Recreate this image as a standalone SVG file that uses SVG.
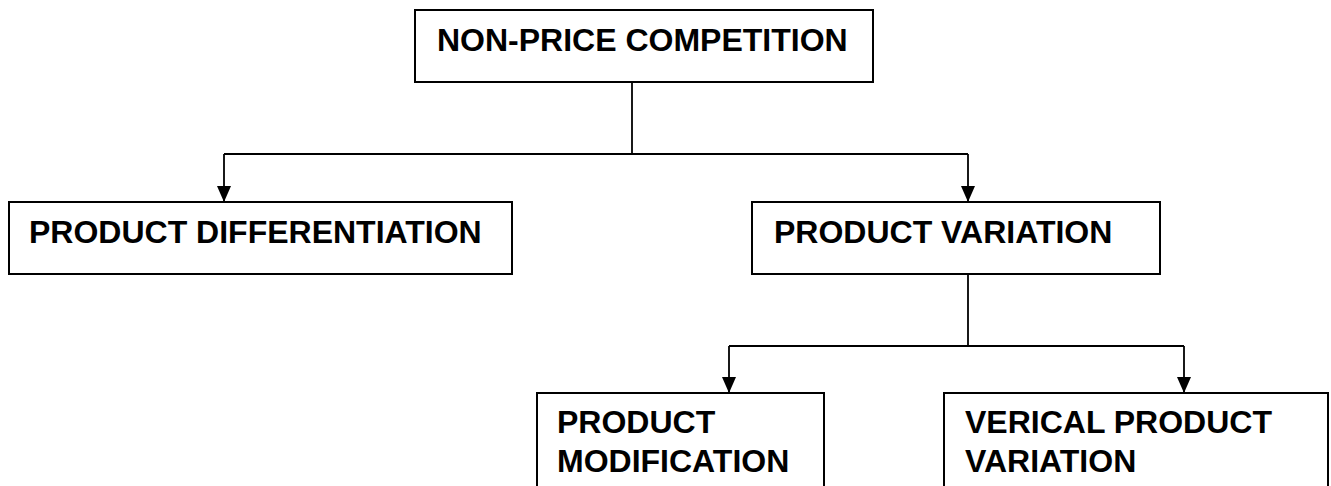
<svg xmlns="http://www.w3.org/2000/svg" width="1331" height="486" viewBox="0 0 1331 486">
<style>
.box{fill:#fff;stroke:#000;stroke-width:2}
.t{font-family:"Liberation Sans",Arial,sans-serif;font-weight:bold;font-size:32px;fill:#000}
.c{fill:none;stroke:#000;stroke-width:1.8}
</style>
<defs>
<marker id="ah" markerUnits="userSpaceOnUse" markerWidth="16" markerHeight="14" refX="16" refY="7" orient="auto" viewBox="0 0 16 14">
<path d="M0,0 L16,7 L0,14 Z" fill="#000"/>
</marker>
</defs>
<rect width="1331" height="486" fill="#fff"/>
<g id="connectors">
<path class="c" d="M632,82 V154"/>
<path class="c" d="M224,154 H968"/>
<path class="c" d="M224,154 V202" marker-end="url(#ah)"/>
<path class="c" d="M968,154 V202" marker-end="url(#ah)"/>
<path class="c" d="M968,274 V346"/>
<path class="c" d="M729,346 H1184"/>
<path class="c" d="M729,346 V393" marker-end="url(#ah)"/>
<path class="c" d="M1184,346 V393" marker-end="url(#ah)"/>
</g>
<g id="non-price-competition">
<rect class="box" x="415" y="10" width="458" height="72"/>
<text class="t" x="437" y="51">NON-PRICE COMPETITION</text>
</g>
<g id="product-differentiation">
<rect class="box" x="9" y="202" width="503" height="72"/>
<text class="t" x="29" y="243">PRODUCT DIFFERENTIATION</text>
</g>
<g id="product-variation">
<rect class="box" x="752" y="202" width="408" height="72"/>
<text class="t" x="774" y="243">PRODUCT VARIATION</text>
</g>
<g id="product-modification">
<rect class="box" x="537" y="393" width="287" height="110"/>
<text class="t" x="557" y="433">PRODUCT</text>
<text class="t" x="557" y="472">MODIFICATION</text>
</g>
<g id="verical-product-variation">
<rect class="box" x="944" y="393" width="384" height="110"/>
<text class="t" x="965" y="433">VERICAL PRODUCT</text>
<text class="t" x="965" y="472">VARIATION</text>
</g>
</svg>
